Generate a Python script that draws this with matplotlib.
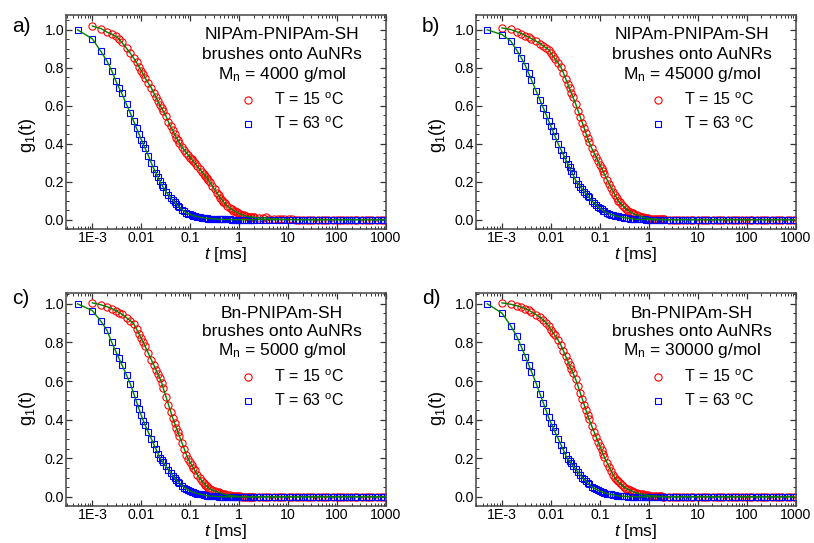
import numpy as np
import matplotlib
matplotlib.use("Agg")
import matplotlib.pyplot as plt
from matplotlib.ticker import (FixedLocator, FixedFormatter, LogLocator,
                               MultipleLocator, FormatStrFormatter, NullFormatter)

plt.rcParams['font.family'] = ['Liberation Sans', 'DejaVu Sans']
plt.rcParams['mathtext.fontset'] = 'custom'
plt.rcParams['mathtext.rm'] = 'Liberation Sans'
plt.rcParams['mathtext.it'] = 'Liberation Sans:italic'

nan = float('nan')

# correlator lag times [ms] (multi-tau channels)
lag_ms = [
    0.0005, 0.001, 0.0015, 0.002, 0.0025, 0.003, 0.0035, 0.004,
    0.005, 0.006, 0.007, 0.008, 0.009, 0.010, 0.011, 0.012,
    0.014, 0.016, 0.018, 0.020, 0.022, 0.024, 0.026, 0.028,
    0.032, 0.036, 0.040, 0.044, 0.048, 0.052, 0.056, 0.060,
    0.068, 0.076, 0.084, 0.092, 0.100, 0.108, 0.116, 0.124,
    0.140, 0.156, 0.172, 0.188, 0.204, 0.220, 0.236, 0.252,
    0.284, 0.316, 0.348, 0.380, 0.412, 0.444, 0.476, 0.508,
    0.572, 0.636, 0.700, 0.764, 0.828, 0.892, 0.956, 1.020,
    1.148, 1.276, 1.404, 1.532, 1.660, 1.788, 1.916, 2.044,
    2.556, 3.068, 3.580, 4.092, 5.116, 6.140, 7.164, 8.188,
    10.24, 12.29, 14.34, 16.38, 20.47, 24.57, 28.66, 32.76,
    40.95, 49.14, 57.33, 65.52, 81.90, 98.28, 114.7, 131.0,
    163.8, 196.6, 229.3, 262.1, 327.6, 393.1, 458.6, 524.2,
    655.2, 786.3, 917.3,
]

# a) NIPAm-PNIPAm-SH, Mn 4000
g15_a = [
    nan, 1.020, 1.007, 0.988, 0.977, 0.965, 0.953, 0.934,
    0.903, 0.876, 0.851, 0.828, 0.805, 0.785, 0.766, 0.748,
    0.718, 0.695, 0.668, 0.645, 0.623, 0.603, 0.588, 0.574,
    0.546, 0.514, 0.491, 0.470, 0.450, 0.432, 0.418, 0.405,
    0.383, 0.366, 0.352, 0.339, 0.327, 0.317, 0.307, 0.298,
    0.281, 0.266, 0.253, 0.241, 0.230, 0.220, 0.208, 0.197,
    0.177, 0.159, 0.143, 0.129, 0.115, 0.105, 0.095, 0.086,
    0.072, 0.063, 0.055, 0.048, 0.043, 0.039, 0.035, 0.030,
    0.026, 0.022, 0.018, 0.016, 0.015, 0.014, 0.013, 0.012,
    0.010, 0.008, 0.012, 0.005, 0.004, 0.003, 0.002, 0.002,
    0.001, 0.001, 0.0, 0.0, 0.0, 0.0, 0.0, 0.0,
    0.0, 0.0, 0.0, 0.0, 0.0, 0.0, 0.0, 0.0,
    0.0, 0.0, 0.0, 0.0, 0.0, 0.0, 0.0, 0.0,
    0.0, 0.0, 0.0,
]
g63_a = [
    1.000, 0.953, 0.886, 0.835, 0.784, 0.733, 0.696, 0.665,
    0.607, 0.560, 0.518, 0.482, 0.450, 0.422, 0.398, 0.376,
    0.337, 0.299, 0.269, 0.245, 0.223, 0.203, 0.185, 0.172,
    0.148, 0.130, 0.115, 0.102, 0.091, 0.082, 0.073, 0.065,
    0.053, 0.044, 0.036, 0.031, 0.028, 0.024, 0.021, 0.019,
    0.016, 0.013, 0.011, 0.010, 0.008, 0.007, 0.006, 0.006,
    0.005, 0.004, 0.003, 0.002, 0.002, 0.002, 0.001, 0.001,
    0.001, 0.001, 0.0, 0.0, 0.0, 0.0, 0.0, 0.0,
    0.0, 0.0, 0.0, 0.0, 0.0, 0.0, 0.0, 0.0,
    0.0, 0.0, 0.0, 0.0, 0.0, 0.0, 0.0, 0.0,
    0.0, 0.0, 0.0, 0.0, 0.0, 0.0, 0.0, 0.0,
    0.0, 0.0, 0.0, 0.0, 0.0, 0.0, 0.0, 0.0,
    0.0, 0.0, 0.0, 0.0, 0.0, 0.0, 0.0, 0.0,
    0.0, 0.0, 0.0,
]

# b) NIPAm-PNIPAm-SH, Mn 45000
g15_b = [
    nan, 1.010, 1.002, 0.990, 0.980, 0.970, 0.961, 0.954,
    0.940, 0.927, 0.915, 0.905, 0.895, 0.878, 0.863, 0.849,
    0.825, 0.803, 0.773, 0.743, 0.716, 0.691, 0.668, 0.648,
    0.610, 0.573, 0.539, 0.509, 0.481, 0.455, 0.431, 0.409,
    0.377, 0.352, 0.329, 0.308, 0.289, 0.271, 0.255, 0.239,
    0.211, 0.187, 0.167, 0.148, 0.131, 0.115, 0.100, 0.092,
    0.078, 0.066, 0.056, 0.048, 0.042, 0.037, 0.033, 0.029,
    0.025, 0.020, 0.016, 0.013, 0.011, 0.009, 0.007, 0.005,
    0.004, 0.003, 0.003, 0.002, 0.002, 0.001, 0.001, 0.001,
    0.0, 0.0, 0.0, 0.0, 0.0, 0.0, 0.0, 0.0,
    0.0, 0.0, 0.0, 0.0, 0.0, 0.0, 0.0, 0.0,
    0.0, 0.0, 0.0, 0.0, 0.0, 0.0, 0.0, 0.0,
    0.0, 0.0, 0.0, 0.0, 0.0, 0.0, 0.0, 0.0,
    0.0, 0.0, 0.0,
]
g63_b = [
    1.000, 0.975, 0.942, 0.893, 0.850, 0.812, 0.771, 0.736,
    0.677, 0.629, 0.588, 0.552, 0.520, 0.491, 0.466, 0.442,
    0.400, 0.369, 0.342, 0.317, 0.295, 0.275, 0.256, 0.239,
    0.208, 0.189, 0.174, 0.160, 0.148, 0.137, 0.126, 0.117,
    0.099, 0.088, 0.078, 0.069, 0.061, 0.054, 0.048, 0.043,
    0.036, 0.031, 0.027, 0.024, 0.021, 0.019, 0.017, 0.015,
    0.013, 0.011, 0.009, 0.008, 0.006, 0.005, 0.004, 0.003,
    0.002, 0.002, 0.001, 0.001, 0.001, 0.0, 0.0, 0.0,
    0.0, 0.0, 0.0, 0.0, 0.0, 0.0, 0.0, 0.0,
    0.0, 0.0, 0.0, 0.0, 0.0, 0.0, 0.0, 0.0,
    0.0, 0.0, 0.0, 0.0, 0.0, 0.0, 0.0, 0.0,
    0.0, 0.0, 0.0, 0.0, 0.0, 0.0, 0.0, 0.0,
    0.0, 0.0, 0.0, 0.0, 0.0, 0.0, 0.0, 0.0,
    0.0, 0.0, 0.0,
]

# c) Bn-PNIPAm-SH, Mn 5000
g15_c = [
    nan, 1.005, 0.995, 0.985, 0.975, 0.965, 0.955, 0.946,
    0.928, 0.912, 0.897, 0.869, 0.844, 0.821, 0.800, 0.780,
    0.743, 0.711, 0.683, 0.657, 0.635, 0.614, 0.592, 0.566,
    0.519, 0.478, 0.441, 0.408, 0.381, 0.358, 0.336, 0.316,
    0.279, 0.247, 0.218, 0.194, 0.178, 0.164, 0.150, 0.138,
    0.115, 0.096, 0.084, 0.072, 0.062, 0.054, 0.047, 0.042,
    0.036, 0.031, 0.027, 0.023, 0.020, 0.017, 0.015, 0.013,
    0.010, 0.008, 0.006, 0.005, 0.004, 0.003, 0.002, 0.002,
    0.001, 0.001, 0.0, 0.0, 0.0, 0.0, 0.0, 0.0,
    0.0, 0.0, 0.0, 0.0, 0.0, 0.0, 0.0, 0.0,
    0.0, 0.0, 0.0, 0.0, 0.0, 0.0, 0.0, 0.0,
    0.0, 0.0, 0.0, 0.0, 0.0, 0.0, 0.0, 0.0,
    0.0, 0.0, 0.0, 0.0, 0.0, 0.0, 0.0, 0.0,
    0.0, 0.0, 0.0,
]
g63_c = [
    1.000, 0.965, 0.910, 0.862, 0.800, 0.755, 0.718, 0.685,
    0.631, 0.584, 0.535, 0.493, 0.455, 0.422, 0.394, 0.372,
    0.334, 0.302, 0.273, 0.247, 0.224, 0.202, 0.189, 0.178,
    0.158, 0.140, 0.124, 0.109, 0.097, 0.088, 0.079, 0.072,
    0.058, 0.048, 0.041, 0.035, 0.030, 0.026, 0.023, 0.021,
    0.017, 0.014, 0.012, 0.010, 0.008, 0.006, 0.005, 0.004,
    0.003, 0.002, 0.002, 0.001, 0.001, 0.0, 0.0, 0.0,
    0.0, 0.0, 0.0, 0.0, 0.0, 0.0, 0.0, 0.0,
    0.0, 0.0, 0.0, 0.0, 0.0, 0.0, 0.0, 0.0,
    0.0, 0.0, 0.0, 0.0, 0.0, 0.0, 0.0, 0.0,
    0.0, 0.0, 0.0, 0.0, 0.0, 0.0, 0.0, 0.0,
    0.0, 0.0, 0.0, 0.0, 0.0, 0.0, 0.0, 0.0,
    0.0, 0.0, 0.0, 0.0, 0.0, 0.0, 0.0, 0.0,
    0.0, 0.0, 0.0,
]

# d) Bn-PNIPAm-SH, Mn 30000
g15_d = [
    nan, 1.005, 0.998, 0.990, 0.983, 0.975, 0.967, 0.958,
    0.944, 0.930, 0.915, 0.902, 0.884, 0.867, 0.851, 0.837,
    0.813, 0.786, 0.756, 0.729, 0.705, 0.682, 0.662, 0.643,
    0.609, 0.572, 0.537, 0.505, 0.476, 0.449, 0.424, 0.402,
    0.367, 0.337, 0.310, 0.285, 0.263, 0.242, 0.223, 0.204,
    0.177, 0.154, 0.132, 0.113, 0.097, 0.088, 0.080, 0.072,
    0.060, 0.050, 0.043, 0.038, 0.034, 0.030, 0.027, 0.024,
    0.020, 0.017, 0.014, 0.012, 0.010, 0.008, 0.007, 0.006,
    0.005, 0.004, 0.003, 0.003, 0.002, 0.002, 0.001, 0.001,
    0.0, 0.0, 0.0, 0.0, 0.0, 0.0, 0.0, 0.0,
    0.0, 0.0, 0.0, 0.0, 0.0, 0.0, 0.0, 0.0,
    0.0, 0.0, 0.0, 0.0, 0.0, 0.0, 0.0, 0.0,
    0.0, 0.0, 0.0, 0.0, 0.0, 0.0, 0.0, 0.0,
    0.0, 0.0, 0.0,
]
g63_d = [
    1.000, 0.952, 0.887, 0.832, 0.776, 0.727, 0.685, 0.649,
    0.587, 0.532, 0.486, 0.446, 0.411, 0.383, 0.361, 0.339,
    0.302, 0.270, 0.242, 0.216, 0.196, 0.184, 0.173, 0.162,
    0.143, 0.127, 0.112, 0.099, 0.090, 0.081, 0.073, 0.066,
    0.053, 0.045, 0.039, 0.034, 0.030, 0.026, 0.023, 0.021,
    0.017, 0.014, 0.012, 0.010, 0.008, 0.006, 0.005, 0.004,
    0.003, 0.002, 0.002, 0.001, 0.001, 0.0, 0.0, 0.0,
    0.0, 0.0, 0.0, 0.0, 0.0, 0.0, 0.0, 0.0,
    0.0, 0.0, 0.0, 0.0, 0.0, 0.0, 0.0, 0.0,
    0.0, 0.0, 0.0, 0.0, 0.0, 0.0, 0.0, 0.0,
    0.0, 0.0, 0.0, 0.0, 0.0, 0.0, 0.0, 0.0,
    0.0, 0.0, 0.0, 0.0, 0.0, 0.0, 0.0, 0.0,
    0.0, 0.0, 0.0, 0.0, 0.0, 0.0, 0.0, 0.0,
    0.0, 0.0, 0.0,
]

panel_letters = ["a)", "b)", "c)", "d)"]
polymers = ["NIPAm-PNIPAm-SH", "NIPAm-PNIPAm-SH", "Bn-PNIPAm-SH", "Bn-PNIPAm-SH"]
molar_mass = ["4000", "45000", "5000", "30000"]
legend_labels = ["T = 15 $^\\mathrm{o}$C", "T = 63 $^\\mathrm{o}$C"]
xtick_vals = [1e-3, 1e-2, 1e-1, 1, 10, 100, 1000]
xtick_text = ["1E-3", "0.01", "0.1", "1", "10", "100", "1000"]

g15_all = [g15_a, g15_b, g15_c, g15_d]
g63_all = [g63_a, g63_b, g63_c, g63_d]

fig = plt.figure(figsize=(8.14, 5.43), dpi=100)
rects = [[0.0811, 0.578, 0.393, 0.395], [0.5844, 0.578, 0.393, 0.395],
         [0.0811, 0.068, 0.393, 0.392], [0.5844, 0.068, 0.393, 0.392]]

for i in range(4):
    ax = fig.add_axes(rects[i])
    top = i < 2
    ax.plot(lag_ms, g15_all[i], 'o', ls='none', mfc='none', mec='#ff0000',
            ms=5.2, mew=0.8, label=legend_labels[0])
    ax.plot(lag_ms, g63_all[i], 's', ls='none', mfc='none', mec='#0000ff',
            ms=4.6, mew=0.8, label=legend_labels[1])
    # fitted curves
    ax.plot(lag_ms, g15_all[i], '-', color='#008000', lw=1.0)
    ax.plot(lag_ms, g63_all[i], '-', color='#008000', lw=1.0)

    ax.set_xscale('log')
    ax.set_xlim(2.9e-4, 1000)
    ax.set_ylim((-0.05, 1.08) if top else (-0.048, 1.055))
    ax.xaxis.set_major_locator(FixedLocator(xtick_vals))
    ax.xaxis.set_major_formatter(FixedFormatter(xtick_text))
    ax.xaxis.set_minor_locator(LogLocator(base=10, subs=np.arange(2, 10), numticks=20))
    ax.xaxis.set_minor_formatter(NullFormatter())
    ax.yaxis.set_major_locator(MultipleLocator(0.2))
    ax.yaxis.set_minor_locator(MultipleLocator(0.05))
    ax.yaxis.set_major_formatter(FormatStrFormatter('%.1f'))
    ax.tick_params(which='both', direction='in', top=True, right=True,
                   labelsize=10.2, color='#333333')
    ax.tick_params(which='major', length=4, width=0.9, pad=1.2)
    ax.tick_params(which='minor', length=2, width=0.7)
    for sp in ax.spines.values():
        sp.set_linewidth(1.1)
        sp.set_color('#444444')

    ax.set_xlabel('$t$ [ms]', fontsize=12.5)
    ax.xaxis.set_label_coords(0.5, -0.072 if top else -0.074)

    tx = 0.675
    ty = [0.906, 0.814, 0.722] if top else [0.907, 0.820, 0.733]
    ax.text(tx, ty[0], polymers[i], transform=ax.transAxes, ha='center', va='center', fontsize=12.5)
    ax.text(tx, ty[1], "brushes onto AuNRs", transform=ax.transAxes, ha='center', va='center', fontsize=12.5)
    ax.text(tx, ty[2], "M$_\\mathrm{n}$ = " + molar_mass[i] + " g/mol", transform=ax.transAxes,
            ha='center', va='center', fontsize=12.5)

    ax.legend(loc='upper left', bbox_to_anchor=(0.52, 0.67 if top else 0.675),
              frameon=False, numpoints=1, handlelength=1.2, handletextpad=1.0,
              labelspacing=0.45, fontsize=11.5, borderaxespad=0)

    fx = 0.0147 if i % 2 == 0 else 0.518
    fy = 0.952 if top else 0.45
    fig.text(fx, fy, panel_letters[i], ha='left', va='center', fontsize=15)
    fig.text(fx + 0.019, 0.751 if top else 0.249, "g$_1$(t)", rotation=90,
             ha='center', va='center', fontsize=13)

fig.savefig("out.png", dpi=100)
